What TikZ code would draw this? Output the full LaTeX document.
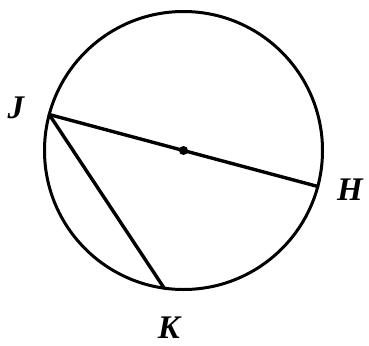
\documentclass[tikz,border=0pt]{standalone}
\usepackage{fontspec}
\setmainfont{Liberation Serif}
\begin{document}
\begin{tikzpicture}[
    x=1pt, y=-1pt,
    rim/.style={circle, draw, line width=3pt, minimum size=278pt, inner sep=0pt, outer sep=0pt},
    chord/.style={line width=3.4pt, line cap=round},
    vertex/.style={inner sep=0pt, font=\fontsize{33}{33}\selectfont\bfseries\itshape}
]
\useasboundingbox (0,0) rectangle (369,345);

% Circle and center
\node[rim] (circ) at (183.5,150.5) {};
\fill (circ.center) circle (4.5pt);

% Points on the circle
\coordinate (J) at (circ.165);
\coordinate (H) at (circ.-15);
\coordinate (K) at (circ.-98.5);

% Chords
\draw[chord] (J) -- (H);
\draw[chord] (J) -- (K);

% Labels
\node[vertex] (labJ) at (16,108) {J};
\node[vertex] (labH) at (350,190) {H};
\node[vertex] (labK) at (169,328) {K};

\end{tikzpicture}
\end{document}
